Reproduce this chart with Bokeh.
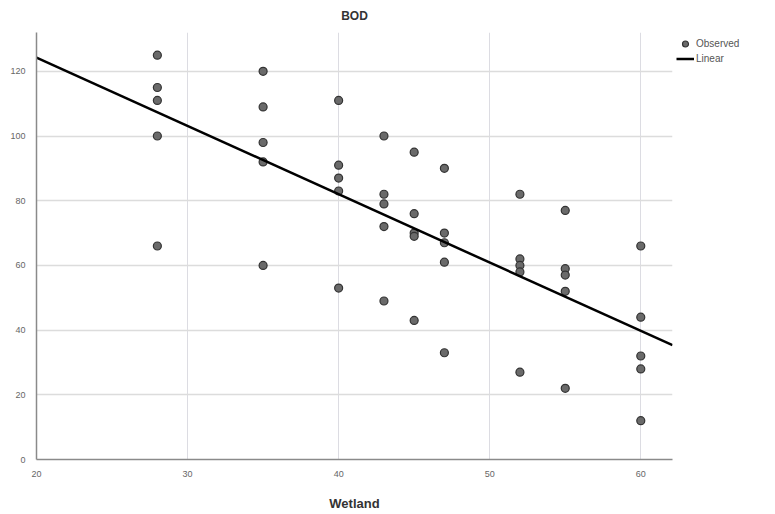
import numpy as np
from bokeh.plotting import figure
from bokeh.models import Range1d, Legend, LegendItem, FixedTicker, ColumnDataSource
from bokeh.embed import file_html
from bokeh.resources import INLINE

# Data (Wetland vs BOD)
wetland = [28, 28, 28, 28, 28,
           35, 35, 35, 35, 35,
           40, 40, 40, 40, 40,
           43, 43, 43, 43, 43,
           45, 45, 45, 45, 45,
           47, 47, 47, 47, 47,
           52, 52, 52, 52, 52,
           55, 55, 55, 55, 55,
           60, 60, 60, 60, 60]
bod = [125, 115, 111, 100, 66,
       120, 109, 98, 92, 60,
       111, 91, 87, 83, 53,
       100, 82, 79, 72, 49,
       95, 76, 70, 69, 43,
       90, 70, 67, 61, 33,
       82, 62, 60, 58, 27,
       77, 59, 57, 52, 22,
       66, 44, 32, 28, 12]
x_ticks = [20, 30, 40, 50, 60]
y_ticks = [0, 20, 40, 60, 80, 100, 120]
x_min, x_max = 20, 62.1
y_min, y_max = 0, 132

slope, intercept = np.polyfit(wetland, bod, 1)
fit_x = [x_min, x_max]
fit_y = [intercept + slope * v for v in fit_x]

p = figure(frame_width=636, frame_height=427, output_backend="svg", toolbar_location=None,
           x_range=Range1d(x_min, x_max), y_range=Range1d(y_min, y_max),
           min_border_left=36, min_border_right=103, min_border_top=32,
           min_border_bottom=55, title="BOD")
p.outline_line_color = None
p.background_fill_color = "white"
p.border_fill_color = "white"

p.title.align = "center"
p.title.vertical_align = "top"
p.title.text_font = "Liberation Sans"
p.title.text_font_size = "12px"
p.title.text_font_style = "bold"
p.title.text_color = "#333333"
p.title.offset = 0
p.title.standoff = 15

for ax in (p.xaxis, p.yaxis):
    ax.axis_line_color = "#8a8a8a"
    ax.axis_line_width = 1.5
    ax.major_tick_line_color = None
    ax.minor_tick_line_color = None
    ax.major_label_text_font = "Liberation Sans"
    ax.major_label_text_font_size = "9px"
    ax.major_label_text_color = "#666666"

p.xaxis.ticker = FixedTicker(ticks=x_ticks)
p.yaxis.ticker = FixedTicker(ticks=y_ticks)
p.xaxis.major_label_standoff = 5
p.yaxis.major_label_standoff = 5
p.xaxis.axis_label = "Wetland"
p.xaxis.axis_label_text_font = "Liberation Sans"
p.xaxis.axis_label_text_font_size = "13px"
p.xaxis.axis_label_text_font_style = "bold"
p.xaxis.axis_label_text_color = "#333333"
p.xaxis.axis_label_standoff = 16

p.xgrid.grid_line_color = "#dcdce2"
p.ygrid.grid_line_color = "#dcdcdc"
p.xgrid.grid_line_width = 1
p.ygrid.grid_line_width = 1.5

src = ColumnDataSource(dict(x=wetland, y=bod))
pts = p.scatter("x", "y", source=src, size=8, fill_color="#6a6a6a",
                line_color="#333333", line_width=1.2)
ln = p.line(fit_x, fit_y, line_color="black", line_width=2.5)

legend = Legend(items=[LegendItem(label="Observed", renderers=[pts]),
                       LegendItem(label="Linear", renderers=[ln])],
                location="top_left", margin=4, padding=2, spacing=0,
                glyph_width=18, glyph_height=15, label_standoff=2,
                label_text_font="Liberation Sans", label_text_font_size="10px",
                label_text_color="#555555", border_line_color=None,
                background_fill_alpha=0, label_height=15)
p.add_layout(legend, "right")

open("out.html", "w").write(file_html(p, INLINE))
